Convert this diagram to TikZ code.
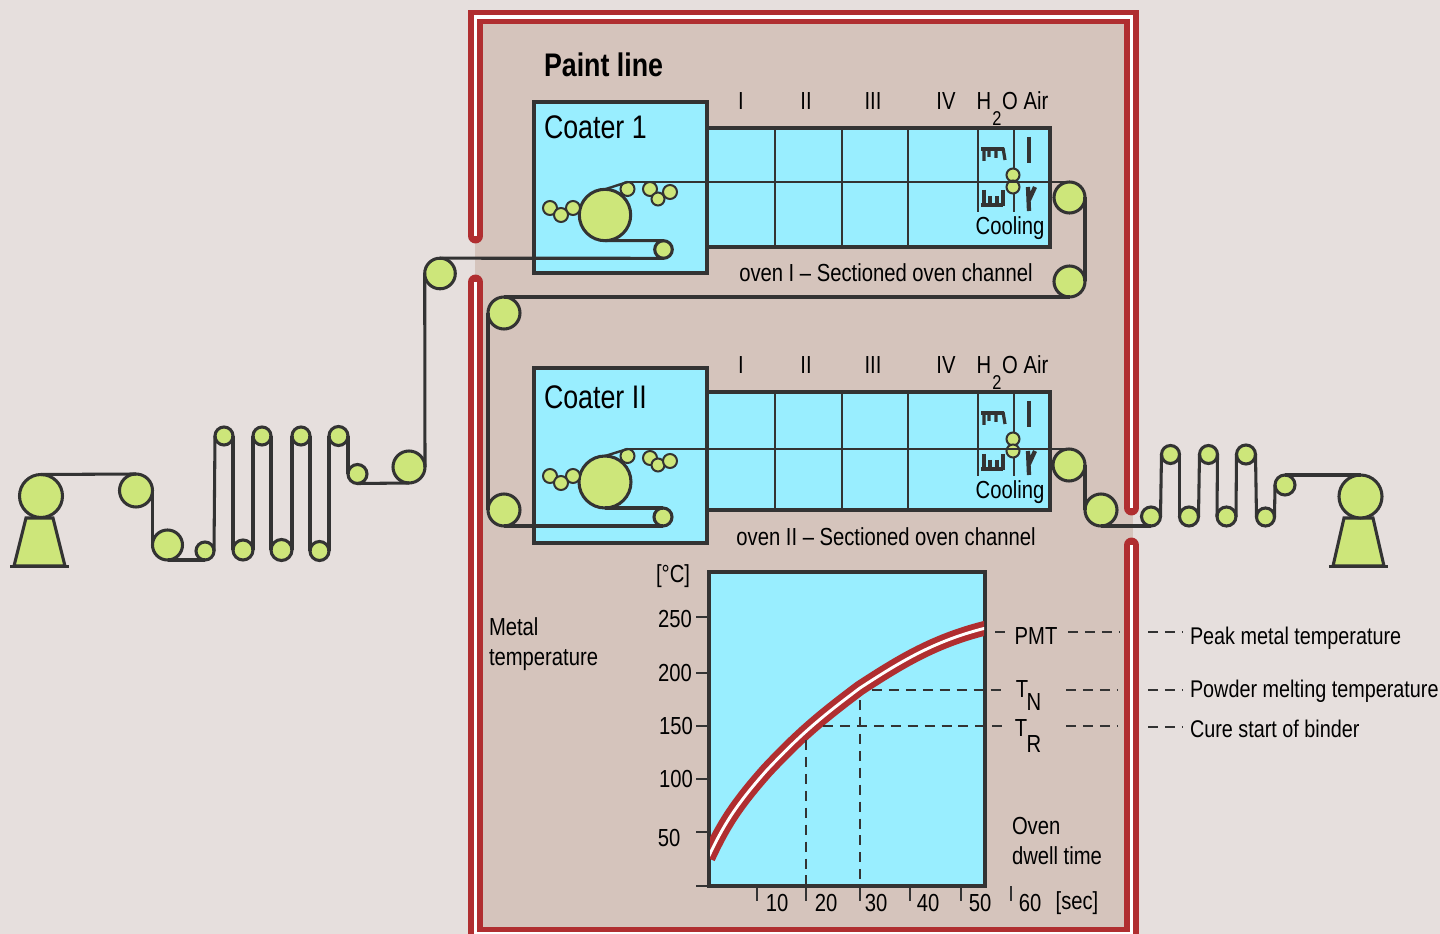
\documentclass[tikz,border=0pt]{standalone}
\usepackage{fontspec}
\setmainfont[FakeStretch=0.82]{Liberation Sans}
\definecolor{bgc}{HTML}{E6DFDD}
\definecolor{tanc}{HTML}{D5C4BC}
\definecolor{cyanc}{HTML}{99EEFF}
\definecolor{greenc}{HTML}{CDE67A}
\definecolor{redc}{HTML}{B02E30}
\definecolor{darkc}{HTML}{333333}
\newcommand{\lbl}{\fontsize{18.5pt}{20pt}\selectfont}
\newcommand{\lblr}{\fontsize{18.1pt}{20pt}\selectfont}
\newcommand{\lbls}{\fontsize{15pt}{16pt}\selectfont}
\newcommand{\ttl}{\fontsize{24.5pt}{26pt}\selectfont}
\tikzset{
 roller/.style={circle,draw=darkc,fill=greenc,line width=2.3pt,inner sep=0pt,outer sep=0pt,minimum size=#1*1.5pt},
 smallroller/.style={roller=#1,line width=1.5pt},
 web/.style={draw=darkc,line width=2.3pt},
 thinweb/.style={draw=darkc,line width=1.8pt},
 boxc/.style={draw=darkc,fill=cyanc,line width=2.3pt},
 grid/.style={draw=darkc,line width=2pt},
 dashc/.style={draw=darkc,line width=2pt,dash pattern=on 7.5pt off 5.2pt},
 tick/.style={draw=darkc,line width=2.2pt},
 txt/.style={inner sep=0pt,outer sep=0pt,text=black,font=\lbl},
 ttlt/.style={inner sep=0pt,outer sep=0pt,text=black,font=\ttl},
 wall/.style={draw=redc,line width=11.2pt,line cap=round},
 wallw/.style={draw=white,line width=2.6pt},
 stand/.style={draw=darkc,fill=greenc,line width=2.3pt},
}
\begin{document}
\begin{tikzpicture}[x=0.75pt,y=-0.75pt]
\useasboundingbox (0,0) rectangle (1440,934);
\fill[bgc] (0,0) rectangle (1440,934);
\fill[tanc] (475,17) rectangle (1133,934);
% walls
\begin{scope}
\clip (0,0) rectangle (1440,934);
\coordinate (wa) at (475.5,236);
\coordinate (wb) at (475.5,17);
\coordinate (wc) at (1131.5,17);
\coordinate (wd) at (1131.5,508);
\coordinate (we) at (475.5,282);
\coordinate (wf) at (475.5,934);
\coordinate (wg) at (1131.5,934);
\coordinate (wh) at (1131.5,545);
\draw[wall,line join=miter] (wa) -- (wb) -- (wc) -- (wd);
\draw[wall,line join=miter] (we) -- (wf) -- (wg) -- (wh);
\draw[wallw,line join=miter] (wa) -- (wb) -- (wc) -- (wd);
\draw[wallw,line join=miter] (we) -- (wf) -- (wg) -- (wh);
\end{scope}
\node[anchor=west,ttlt,font=\ttl\bfseries] (title) at (544,65) {Paint line};
% coater 1 and oven
\draw[boxc] (707,128) rectangle (1050,247);
\draw[boxc] (534,102) rectangle (707,273);
\draw[grid] (775,128) -- (775,247) (842,128) -- (842,247) (908,128) -- (908,247);
\draw[grid] (978,128) -- (978,212) (1014,128) -- (1014,212);
\node[anchor=west,ttlt] (c1) at (544,127) {Coater 1};
% coater 2 and oven
\draw[boxc] (707,392) rectangle (1050,510);
\draw[boxc] (534,368) rectangle (707,543);
\draw[grid] (775,392) -- (775,510) (842,392) -- (842,510) (908,392) -- (908,510);
\draw[grid] (978,392) -- (978,476) (1014,392) -- (1014,476);
\node[anchor=west,ttlt] (c2) at (544,397) {Coater II};
% oven headers
\foreach \n/\yy in {a/101,b/365}{
 \node[txt] (\n i) at (741,\yy) {I};
 \node[txt] (\n ii) at (806,\yy) {II};
 \node[txt] (\n iii) at (873,\yy) {III};
 \node[txt] (\n iv) at (946,\yy) {IV};
 \node[txt] (\n h) at (984,\yy) {H};
 \node[txt] (\n o) at (1010,\yy) {O};
 \node[txt] (\n air) at (1036,\yy) {Air};
}
\node[txt,font=\lbls] (a2) at (997,119) {2};
\node[txt,font=\lbls] (b2) at (997,383) {2};
\node[txt] (cool1) at (1010,228) {Cooling};
\node[txt] (cool2) at (1010,492) {Cooling};
\node[txt] (ov1) at (886,273) {oven I – Sectioned oven channel};
\node[txt] (ov2) at (886,537) {oven II – Sectioned oven channel};
% nozzles
\foreach \dy in {0,264}{
 \begin{scope}[shift={(0,\dy)}]
 \draw[darkc,line width=3pt] (981,149) -- (1004,149);
 \draw[darkc,line width=2.4pt] (984,148) -- (984,161) (989,148) -- (989,157) (996,148) -- (996,158) (1003,148) -- (1005,160);
 \draw[darkc,line width=3pt] (981,205) -- (1003,205);
 \draw[darkc,line width=2.4pt] (984,190) -- (984,206) (990,196) -- (990,206) (997,196) -- (997,206) (1003,190) -- (1003,206);
 \draw[darkc,line width=3.6pt] (1029,137) -- (1029,163);
 \draw[darkc,line width=3.2pt] (1028,187) -- (1029,211) (1035,187) -- (1029,200);
 \end{scope}
}
% left line rollers
\draw[stand] (26,518) -- (14,566) -- (65,566) -- (53,518) -- cycle;
\draw[stand] (10,566.5) -- (69,566.5);
\draw[stand] (1344,518) -- (1333,566) -- (1384,566) -- (1373,518) -- cycle;
\draw[stand] (1329,566.5) -- (1388,566.5);
\node[roller=21.5] (u) at (41,496) {};
\node[roller=16.5] (l1) at (136,490.5) {};
\node[roller=15] (l2) at (167.5,545) {};
\node[roller=9] (l3) at (205,551) {};
\node[roller=9] (l4) at (224,436) {};
\node[roller=10] (l5) at (243,550) {};
\node[roller=9] (l6) at (262,436) {};
\node[roller=10.5] (l7) at (281.5,550) {};
\node[roller=9] (l8) at (301,436) {};
\node[roller=9.5] (l9) at (319.5,551) {};
\node[roller=9.5] (l10) at (338.5,436) {};
\node[roller=9.5] (l11) at (357.5,474) {};
\node[roller=16] (l12) at (409,467) {};
\node[roller=15.3] (l13) at (440,273.5) {};
% upper coater rollers
\node[roller=8.8] (c1r) at (663.5,249.5) {};
\node[roller=25.7] (c1b) at (605,215) {};
\node[smallroller=7] (c1a) at (550,208) {};
\node[smallroller=7] (c1e) at (573,208) {};
\node[smallroller=7] (c1d) at (561,215) {};
\node[smallroller=7] (c1t) at (627.5,189) {};
\node[smallroller=7] (c1f) at (650,189) {};
\node[smallroller=6.5] (c1g) at (658,199) {};
\node[smallroller=7] (c1h) at (670,192) {};
\node[smallroller=6.5] (c1p) at (1013,175) {};
\node[smallroller=6.5] (c1q) at (1013,187) {};
\node[roller=15.5] (r1) at (1069.5,197.5) {};
\node[roller=15.5] (r2) at (1069.5,281.5) {};
\node[roller=16] (r3) at (504,313) {};
\node[roller=16] (r4) at (504,510) {};
% lower coater rollers
\node[roller=9] (c2r) at (663,517) {};
\node[roller=26] (c2b) at (605,482) {};
\node[smallroller=7] (c2a) at (550,476) {};
\node[smallroller=7] (c2e) at (573,476) {};
\node[smallroller=7] (c2d) at (561,483) {};
\node[smallroller=7] (c2t) at (627.5,456) {};
\node[smallroller=7] (c2f) at (650,458) {};
\node[smallroller=6.5] (c2g) at (658,465) {};
\node[smallroller=7] (c2h) at (670,461) {};
\node[smallroller=6.5] (c2p) at (1013,439) {};
\node[smallroller=6.5] (c2q) at (1013,451) {};
% right line rollers
\node[roller=16] (e1) at (1069,465) {};
\node[roller=16] (e2) at (1101,510) {};
\node[roller=9.5] (e3) at (1151,516.5) {};
\node[roller=9] (e4) at (1170.5,454.5) {};
\node[roller=9.5] (e5) at (1189,516.5) {};
\node[roller=9] (e6) at (1208.5,454.5) {};
\node[roller=9.5] (e7) at (1226.5,516.5) {};
\node[roller=9.5] (e8) at (1246,454.5) {};
\node[roller=9] (e9) at (1265.5,517) {};
\node[roller=10] (e10) at (1285,485) {};
\node[roller=21.5] (v) at (1360.5,496.5) {};
% web
\draw[web] (u.north) -- (l1.north);
\draw[web] (l1.east) -- (l2.west);
\draw[web] (l2.south) -- (l3.south);
\draw[web] (l3.east) -- (l4.west);
\draw[web] (l4.east) -- (l5.west);
\draw[web] (l5.east) -- (l6.west);
\draw[web] (l6.east) -- (l7.west);
\draw[web] (l7.east) -- (l8.west);
\draw[web] (l8.east) -- (l9.west);
\draw[web] (l9.east) -- (l10.west);
\draw[web] (l10.east) -- (l11.west);
\draw[web] (l11.south) -- (l12.south);
\draw[web] (l12.east) -- (l13.west);
\draw[web] (l13.north) -- (c1r.south);
\draw[web] (c1r.north) -- (c1b.south);
\draw[thinweb] (c1b.north) -- (c1t.north);
\draw[thinweb] (c1t.north) -- (r1.north);
\draw[web] (r1.east) -- (r2.east);
\draw[web] (r2.south) -- (r3.north);
\draw[web] (r3.west) -- (r4.west);
\draw[web] (r4.south) -- (c2r.south);
\draw[web] (c2r.north) -- (c2b.south);
\draw[thinweb] (c2b.north) -- (c2t.north);
\draw[thinweb] (c2t.north) -- (e1.north);
\draw[web] (e1.east) -- (e2.west);
\draw[web] (e2.south) -- (e3.south);
\draw[web] (e3.east) -- (e4.west);
\draw[web] (e4.east) -- (e5.west);
\draw[web] (e5.east) -- (e6.west);
\draw[web] (e6.east) -- (e7.west);
\draw[web] (e7.east) -- (e8.west);
\draw[web] (e8.east) -- (e9.west);
\draw[web] (e9.east) -- (e10.west);
\draw[web] (e10.north) -- (v.north);
% chart
\draw[boxc] (709,572) rectangle (985,886);
\begin{scope}
\clip (710,573) rectangle (984,885);
\def\crv{(708,858) .. controls (723,826) and (735,806) .. (767,770) .. controls (800,735) and (820,718) .. (860,688) .. controls (900,662) and (935,640) .. (990,627)}
\draw[redc,line width=11pt] \crv;
\draw[white,line width=2.2pt] \crv;
\end{scope}
\coordinate (ax0) at (696,886);
\coordinate (ax1) at (709,886);
\draw[tick] (ax0) -- (ax1);
\foreach \yy/\t/\xx in {619/250/675,673/200/675,726/150/676,779/100/676,838/50/669}{
 \node[txt] (y\t) at (\xx,\yy) {\t};
}
\foreach \yy in {617,673,726,779,832}{
 \draw[tick] (696,\yy) -- (709,\yy);
}
\foreach \xx in {757,806,860,910,961,1011}{
 \draw[tick] (\xx,886) -- (\xx,901);
}
\foreach \xx/\t in {777/10,826/20,876/30,928/40,980/50,1030/60}{
 \node[txt] (x\t) at (\xx,903) {\t};
}
\node[txt] (sec) at (1077,903) {[sec]};
\node[txt] (degc) at (673,576) {[°C]};
\node[txt,anchor=west] (mt1) at (489,627) {Metal};
\node[txt,anchor=west] (mt2) at (489,660) {temperature};
\node[txt,anchor=west] (od1) at (1012,826) {Oven};
\node[txt,anchor=west] (od2) at (1012,856) {dwell time};
\node[txt] (pmt) at (1036,636) {PMT};
\node[txt] (tn) at (1022,689) {T};
\node[txt] (tnn) at (1034,702) {N};
\node[txt] (tr) at (1021,728) {T};
\node[txt] (trr) at (1034,744) {R};
\node[txt,font=\lblr,anchor=west] (lp) at (1190,638) {Peak metal temperature};
\node[txt,font=\lblr,anchor=west] (lq) at (1190,691) {Powder melting temperature};
\node[txt,font=\lblr,anchor=west] (lr) at (1190,729) {Cure start of binder};
% dashes
\draw[dashc] (806,740) -- (806,886);
\draw[dashc] (860,700) -- (860,886);
\draw[dashc] (872,690) -- (1004,690);
\draw[dashc] (823,726) -- (1004,726);
\draw[dashc] (995,632) -- (1006,632);
\draw[dashc] (1068,632) -- (1120,632);
\draw[dashc] (1148,632) -- (1182,632);
\draw[dashc] (1066,690) -- (1118,690);
\draw[dashc] (1148,690) -- (1182,690);
\draw[dashc] (1066,726) -- (1118,726);
\draw[dashc] (1148,727) -- (1182,727);
\end{tikzpicture}
\end{document}
